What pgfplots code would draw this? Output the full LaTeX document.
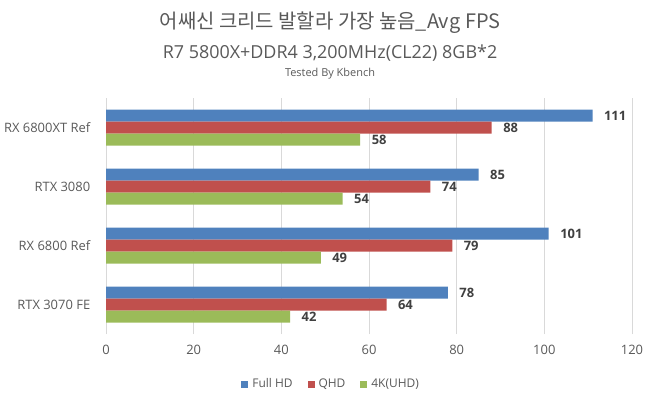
\documentclass[border=0pt]{standalone}
\usepackage{pgfplots}
\pgfplotsset{compat=1.18}
\usepackage{fontspec}
\setmainfont{Open Sans}
\newfontfamily\kr{Noto Sans CJK KR}
\definecolor{cblue}{HTML}{4F81BD}
\definecolor{cred}{HTML}{C0504D}
\definecolor{cgreen}{HTML}{9BBB59}
\definecolor{gridgray}{HTML}{D9D9D9}
\definecolor{lab}{HTML}{595959}
\definecolor{dlab}{HTML}{404040}
\begin{document}
\begin{tikzpicture}[x=1bp,y=1bp]
\useasboundingbox (0,0) rectangle (660,399);
\node[anchor=base, text=lab, font=\kr\fontsize{20}{24}\selectfont] at (330,371) {어쌔신 크리드 발할라 가장 높음\_Avg FPS};
\node[anchor=base, text=lab, font=\fontsize{18}{22}\selectfont] at (330,341) {R7 5800X+DDR4 3,200MHz(CL22) 8GB*2};
\node[anchor=base, text=lab, font=\fontsize{11}{13}\selectfont] at (330,323) {Tested By Kbench};
\begin{axis}[
  at={(106bp,65bp)}, anchor=south west,
  scale only axis, width=526bp, height=236bp,
  xbar, bar width=12bp,
  xmin=0, xmax=120, ymin=-0.5, ymax=3.5,
  xtick={0,20,...,120},
  ytick={0,1,2,3},
  yticklabels={RTX 3070 FE, RX 6800 Ref, RTX 3080, RX 6800XT Ref},
  xmajorgrids, grid style={draw=gridgray, line width=0.75bp},
  axis line style={draw=none},
  major tick style={draw=none},
  ticklabel style={font=\fontsize{13}{15}\selectfont, text=lab},
  /pgf/number format/assume math mode=true,
  yticklabel style={xshift=-8bp},
  xticklabel style={yshift=-8bp},
  nodes near coords,
  nodes near coords style={font=\bfseries\fontsize{13}{15}\selectfont, text=dlab, anchor=west, xshift=8bp},
  legend style={at={(0.428,-0.212)}, anchor=center, legend columns=3, draw=none,
    font=\fontsize{12}{14}\selectfont, text=lab,
    /tikz/every odd column/.append style={column sep=2bp},
    /tikz/every even column/.append style={column sep=13bp}},
  legend image code/.code={\fill[#1] (0bp,-3.5bp) rectangle (7bp,3.5bp);},
]
\addplot[fill=cblue, draw=none, bar shift=12bp] coordinates {(78,0) (101,1) (85,2) (111,3)};
\addplot[fill=cred, draw=none, bar shift=0bp] coordinates {(64,0) (79,1) (74,2) (88,3)};
\addplot[fill=cgreen, draw=none, bar shift=-12bp] coordinates {(42,0) (49,1) (54,2) (58,3)};
\legend{Full HD, QHD, 4K(UHD)}
\end{axis}
\end{tikzpicture}
\end{document}
